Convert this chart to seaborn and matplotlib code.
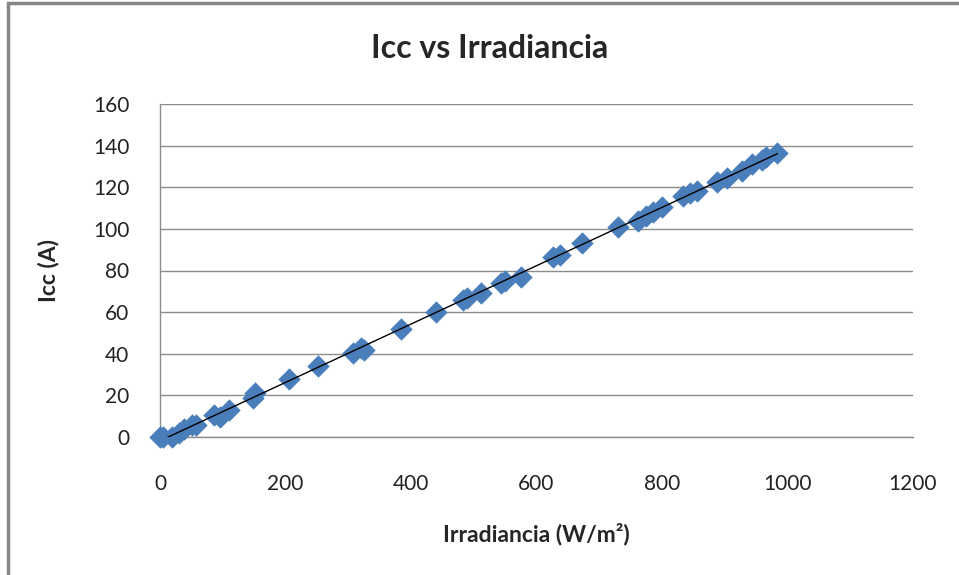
import numpy as np
import pandas as pd
import matplotlib
matplotlib.use("Agg")
import matplotlib.pyplot as plt
import seaborn as sns
from matplotlib.patches import Rectangle

# values
irradiancia = [0, 5, 19, 30, 38, 51, 57, 86, 95, 110, 149, 151, 205, 252, 308, 320,
               325, 384, 440, 483, 490, 511, 543, 550, 575, 627, 638, 673, 730, 762,
               775, 786, 800, 833, 845, 855, 887, 903, 927, 944, 960, 966, 984]
icc = [0, 0, 0, 2, 4, 5.7, 6, 10.6, 9.6, 13, 18.7, 21, 28, 34, 40.4, 43,
       42, 52, 60, 66, 67, 69, 74, 75, 77, 86.5, 87.5, 93, 101, 104,
       106, 108, 110.6, 116, 117, 118, 122.6, 124.5, 128, 131, 133, 134.6, 136.5]
x_ticks = [0, 200, 400, 600, 800, 1000, 1200]
y_ticks = [0, 20, 40, 60, 80, 100, 120, 140, 160]

df = pd.DataFrame({"Irradiancia": irradiancia, "Icc": icc})

sns.set_style("white")
plt.rcParams['font.family'] = ['Lato', 'DejaVu Sans']

fig = plt.figure(figsize=(9.59, 5.75), dpi=100)
ax = fig.add_axes([160/959, 1 - 437/575, (913 - 160)/959, (437 - 104)/575])

sns.scatterplot(data=df, x="Irradiancia", y="Icc", marker="D", s=130,
                color="#4A7EBB", edgecolor="#4A7EBB", linewidth=0, ax=ax,
                zorder=3, clip_on=False)
sns.regplot(data=df, x="Irradiancia", y="Icc", scatter=False, ci=None,
            color="black", line_kws={"linewidth": 1, "zorder": 4}, ax=ax)

ax.set_xlim(0, 1200)
ax.set_ylim(0, 160)
ax.set_xticks(x_ticks)
ax.set_yticks(y_ticks)
ax.tick_params(axis="x", length=0, pad=27, labelsize=15, colors="#222222")
ax.tick_params(axis="y", length=0, pad=22, labelsize=15, colors="#222222")

ax.yaxis.grid(True, color="#8c8c8c", linewidth=1)
ax.xaxis.grid(False)
ax.set_axisbelow(True)
for s in ["top", "right"]:
    ax.spines[s].set_visible(False)
for s in ["left", "bottom"]:
    ax.spines[s].set_color("#8c8c8c")
    ax.spines[s].set_linewidth(1)
    ax.spines[s].set_zorder(0.5)

ax.set_xlabel("Irradiancia (W/m²)", fontsize=16.5, fontweight="bold", labelpad=20)
ax.set_ylabel("Icc (A)", fontsize=16.5, fontweight="bold", labelpad=24)
fig.text(490/959, 1 - 48/575, "Icc vs Irradiancia", ha="center", va="center",
         fontsize=23, fontweight="bold")

# outer chart frame
fig.patches.append(Rectangle((8/959, -0.05), 1.1, 1 - 3/575 + 0.05, transform=fig.transFigure,
                             fill=False, edgecolor="#868686", linewidth=2.5))

fig.savefig("out.png", dpi=100)
